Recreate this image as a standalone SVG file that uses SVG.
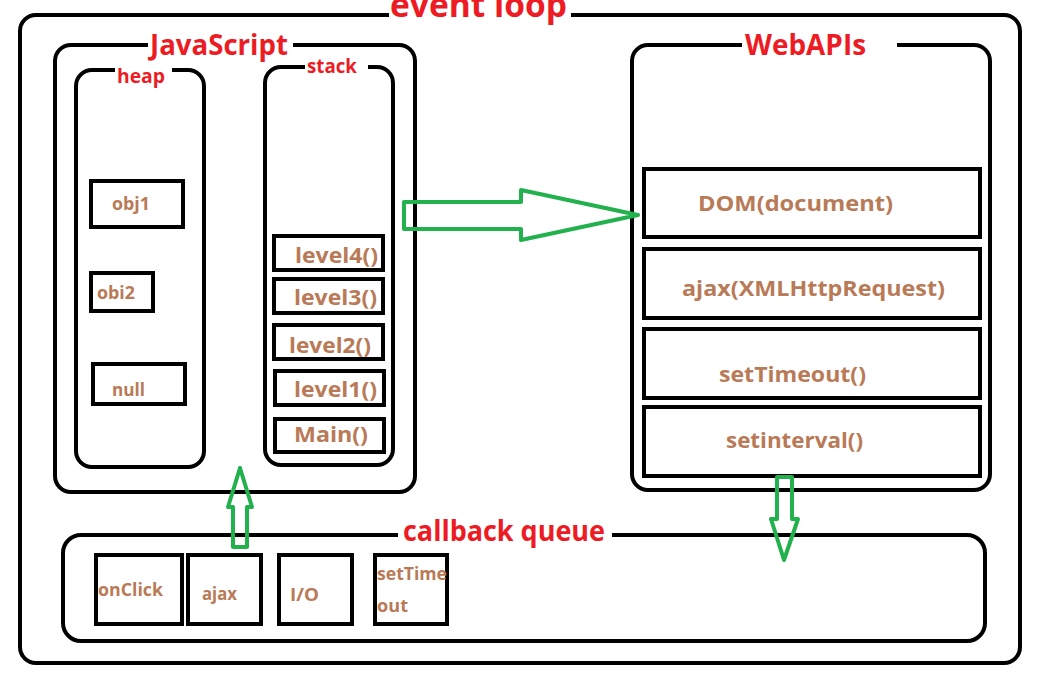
<svg xmlns="http://www.w3.org/2000/svg" width="1038" height="690" viewBox="0 0 1038 690">
<defs>
<style>
.box{fill:none;stroke:#000;stroke-width:4}
.item{fill:#fff;stroke:#000;stroke-width:4}
.gap{fill:#fff;stroke:none}
.title{font-family:"Open Sans","Noto Sans",sans-serif;font-weight:bold;fill:#ED1C24}
.lbl{font-family:"Open Sans","Noto Sans",sans-serif;font-weight:bold;fill:#B97A57}
.arrow{fill:none;stroke:#22B14C;stroke-width:4;stroke-linejoin:round}
</style>
</defs>
<rect width="1038" height="690" fill="#fff"/>

<g id="event-loop">
<rect class="box" x="20" y="15" width="1000" height="648" rx="16"/>
<rect class="gap" x="389" y="8" width="182" height="14"/>
<text class="title" x="390" y="17" font-size="34" textLength="177" lengthAdjust="spacingAndGlyphs">event loop</text>
</g>

<g id="javascript">
<rect class="box" x="55" y="45" width="360" height="447" rx="16"/>
<rect class="gap" x="148" y="40" width="145" height="10"/>
<text class="title" x="150" y="55" font-size="28" textLength="138" lengthAdjust="spacingAndGlyphs">JavaScript</text>
</g>

<g id="heap">
<rect class="box" x="76" y="70" width="128" height="397" rx="16"/>
<rect class="gap" x="115" y="65" width="57" height="10"/>
<text class="title" x="117" y="83" font-size="20" textLength="48" lengthAdjust="spacingAndGlyphs">heap</text>
</g>

<g id="obj1">
<rect class="item" x="91" y="181" width="92" height="46"/>
<text class="lbl" x="112" y="210" font-size="17" textLength="38" lengthAdjust="spacingAndGlyphs">obj1</text>
</g>
<g id="obi2">
<rect class="item" x="91" y="273" width="62" height="38"/>
<text class="lbl" x="97" y="299" font-size="17" textLength="38" lengthAdjust="spacingAndGlyphs">obi2</text>
</g>
<g id="null">
<rect class="item" x="93" y="364" width="92" height="40"/>
<text class="lbl" x="112" y="396" font-size="17" textLength="33" lengthAdjust="spacingAndGlyphs">null</text>
</g>

<g id="stack">
<rect class="box" x="265" y="67" width="128" height="398" rx="16"/>
<rect class="gap" x="305" y="62" width="63" height="10"/>
<text class="title" x="307" y="73" font-size="19" textLength="50" lengthAdjust="spacingAndGlyphs">stack</text>
</g>

<g id="level4">
<rect class="item" x="274" y="236" width="109" height="34"/>
<text class="lbl" x="295" y="263" font-size="22" textLength="83" lengthAdjust="spacingAndGlyphs">level4()</text>
</g>
<g id="level3">
<rect class="item" x="274" y="279" width="109" height="34"/>
<text class="lbl" x="294" y="305" font-size="22" textLength="83" lengthAdjust="spacingAndGlyphs">level3()</text>
</g>
<g id="level2">
<rect class="item" x="274" y="325" width="109" height="34"/>
<text class="lbl" x="289" y="353" font-size="22" textLength="82" lengthAdjust="spacingAndGlyphs">level2()</text>
</g>
<g id="level1">
<rect class="item" x="275" y="371" width="109" height="34"/>
<text class="lbl" x="294" y="397" font-size="22" textLength="83" lengthAdjust="spacingAndGlyphs">level1()</text>
</g>
<g id="main">
<rect class="item" x="275" y="419" width="109" height="33"/>
<text class="lbl" x="294" y="442" font-size="22" textLength="74" lengthAdjust="spacingAndGlyphs">Main()</text>
</g>

<g id="webapis">
<rect class="box" x="632" y="45" width="358" height="445" rx="16"/>
<rect class="gap" x="742" y="40" width="155" height="10"/>
<text class="title" x="745" y="55" font-size="28" textLength="121" lengthAdjust="spacingAndGlyphs">WebAPIs</text>
</g>

<g id="dom">
<rect class="item" x="644" y="169" width="336" height="68"/>
<text class="lbl" x="698" y="211" font-size="22" textLength="195" lengthAdjust="spacingAndGlyphs">DOM(document)</text>
</g>
<g id="ajax-api">
<rect class="item" x="644" y="249" width="336" height="69"/>
<text class="lbl" x="682" y="296" font-size="22" textLength="263" lengthAdjust="spacingAndGlyphs">ajax(XMLHttpRequest)</text>
</g>
<g id="settimeout-api">
<rect class="item" x="644" y="329" width="336" height="69"/>
<text class="lbl" x="719" y="382" font-size="22" textLength="147" lengthAdjust="spacingAndGlyphs">setTimeout()</text>
</g>
<g id="setinterval-api">
<rect class="item" x="644" y="407" width="336" height="69"/>
<text class="lbl" x="726" y="448" font-size="22" textLength="137" lengthAdjust="spacingAndGlyphs">setinterval()</text>
</g>

<g id="callback-queue">
<rect class="box" x="63" y="535" width="922" height="106" rx="18"/>
<rect class="gap" x="398" y="530" width="214" height="10"/>
<text class="title" x="403" y="541" font-size="28" textLength="202" lengthAdjust="spacingAndGlyphs">callback queue</text>
</g>

<g id="q-onclick">
<rect class="item" x="96" y="555" width="86" height="69"/>
<text class="lbl" x="98" y="596" font-size="17" textLength="65" lengthAdjust="spacingAndGlyphs">onClick</text>
</g>
<g id="q-ajax">
<rect class="item" x="188" y="555" width="73" height="69"/>
<text class="lbl" x="202" y="600" font-size="17" textLength="35" lengthAdjust="spacingAndGlyphs">ajax</text>
</g>
<g id="q-io">
<rect class="item" x="279" y="555" width="73" height="69"/>
<text class="lbl" x="290" y="601" font-size="17" textLength="29" lengthAdjust="spacingAndGlyphs">I/O</text>
</g>
<g id="q-settimeout">
<rect class="item" x="375" y="555" width="72" height="69"/>
<text class="lbl" x="377" y="580" font-size="17" textLength="70" lengthAdjust="spacingAndGlyphs">setTime</text>
<text class="lbl" x="377" y="612" font-size="17" textLength="31" lengthAdjust="spacingAndGlyphs">out</text>
</g>

<g id="connectors">
<polygon class="arrow" points="404,202 521,202 521,190 638,215 521,240 521,229 404,229"/>
<polygon class="arrow" points="233,547 247,547 247,507 252,507 240,468 228,507 233,507"/>
<polygon class="arrow" points="777,477 792,477 792,519 798,519 784,560 771,519 777,519"/>
</g>
</svg>
